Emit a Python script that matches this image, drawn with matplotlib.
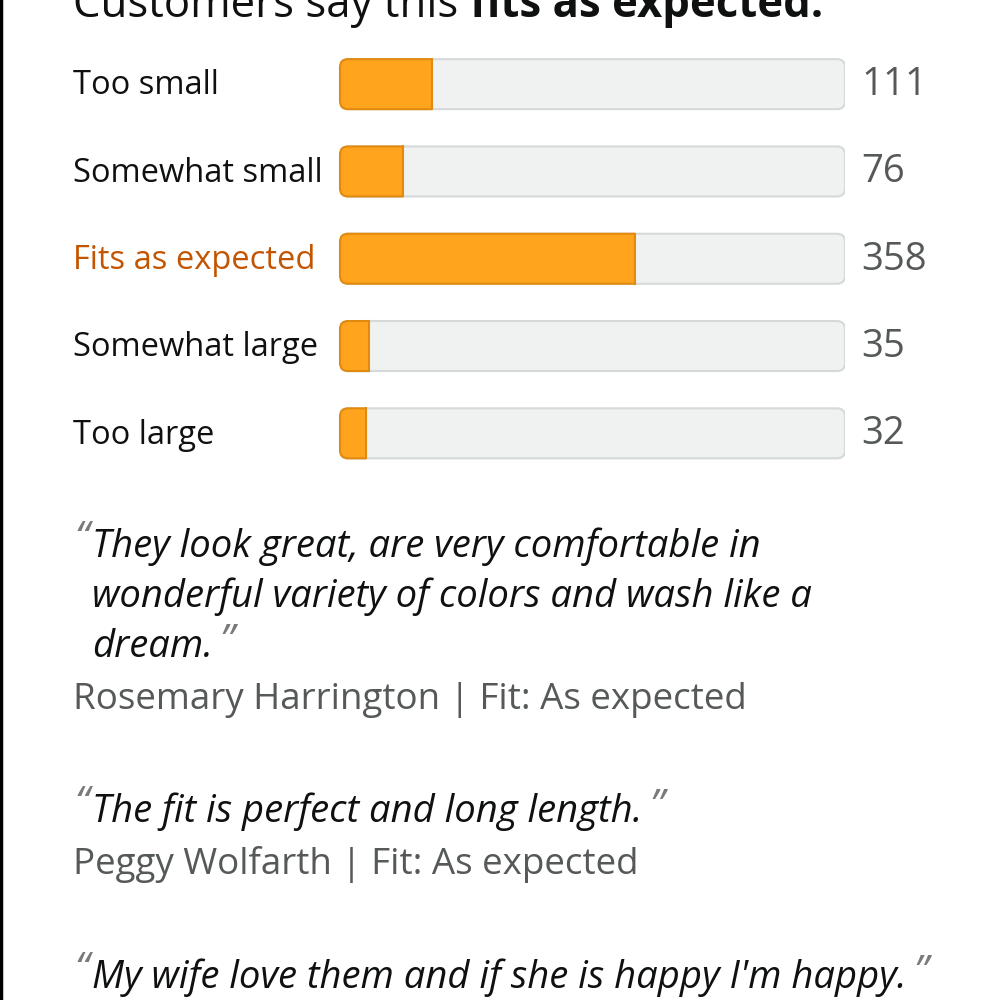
import matplotlib
matplotlib.use("Agg")
import matplotlib.pyplot as plt
from matplotlib.patches import FancyBboxPatch

plt.rcParams['font.family'] = ['Open Sans', 'DejaVu Sans']

# --- data ---
fit_labels = ['Too small', 'Somewhat small', 'Fits as expected', 'Somewhat large', 'Too large']
fit_counts = [111, 76, 358, 35, 32]
highlight = 'Fits as expected'

quote_lines = [
    ['They look great, are very comfortable in',
     'wonderful variety of colors and wash like a',
     'dream.'],
    ['The fit is perfect and long length.'],
    ["My wife love them and if she is happy I'm happy."],
]
quote_authors = ['Rosemary Harrington | Fit: As expected',
                 'Peggy Wolfarth | Fit: As expected',
                 None]

# --- colours ---
ORANGE = '#ffa41c'
ORANGE_EDGE = '#e08a10'
TRACK = '#f0f2f2'
TRACK_EDGE = '#d5d9d9'
TEXT = '#0f1111'
GREY = '#565959'
QUOTE_MARK = '#7a7a7a'
HILITE = '#c45500'

fig = plt.figure(figsize=(10, 10), dpi=100)

# page-level axes in pixel coordinates for text
ax = fig.add_axes([0, 0, 1, 1])
ax.set_xlim(0, 1000)
ax.set_ylim(1000, 0)
ax.axis('off')
ax.axvline(1, color='black', lw=2.5)

# title, cut off at the top
t1 = ax.text(73, 17, 'Customers say this ', fontsize=31.5, color=TEXT, va='baseline')
ax.annotate('fits as expected.', xy=(1, 0), xycoords=t1, fontsize=31.5,
            fontweight='bold', color=TEXT, va='bottom', ha='left')

# --- bar axes ---
bx = fig.add_axes([0.340, 1 - 0.477, 0.505, 0.4365])
bx.set_xlim(0, 1)
bx.set_ylim(len(fit_labels) - 0.5, -0.5)
bx.axis('off')

total = sum(fit_counts)
shares = [c / total for c in fit_counts]
bh = 0.573
aspect = 5.8
r = 0.016

tracks = bx.barh(range(len(fit_labels)), [1] * len(fit_labels), height=bh)
fills = bx.barh(range(len(fit_labels)), shares, height=bh)

for tr, fl in zip(tracks, fills):
    tr.set_visible(False)
    fl.set_visible(False)
    x, y, w, h = tr.get_x(), tr.get_y(), tr.get_width(), tr.get_height()
    bx.add_patch(FancyBboxPatch((x, y), w, h,
                                boxstyle=f'round,pad=0,rounding_size={r}',
                                mutation_aspect=aspect, facecolor=TRACK,
                                edgecolor=TRACK_EDGE, lw=1.5, zorder=1))
    x, y, w, h = fl.get_x(), fl.get_y(), fl.get_width(), fl.get_height()
    p = FancyBboxPatch((x, y), w + 2 * r, h,
                       boxstyle=f'round,pad=0,rounding_size={r}',
                       mutation_aspect=aspect, facecolor=ORANGE,
                       edgecolor=ORANGE_EDGE, lw=1.5, zorder=2)
    bx.add_patch(p)
    clip = plt.Rectangle((x - 0.01, y - 0.05), w + 0.01, h + 0.1,
                         transform=bx.transData)
    p.set_clip_path(clip)
    bx.plot([x + w, x + w], [y, y + h], color=ORANGE_EDGE, lw=1.5, zorder=3)

# labels and counts
for i, (lab, cnt) in enumerate(zip(fit_labels, fit_counts)):
    yc = 84 + i * 87.25
    ax.text(73, yc + 2, lab, fontsize=23.5, va='center', ha='left',
            color=HILITE if lab == highlight else TEXT)
    ax.text(861, yc + 1, str(cnt), fontsize=27.5, va='center', ha='left', color=GREY)

# quotes
quote_y = [557, 822, 988]
author_gap = 52
line_gap = 50
for lines, author, y0 in zip(quote_lines, quote_authors, quote_y):
    ax.text(74, y0 - 6, '\u201c', fontsize=30, style='italic', color=QUOTE_MARK,
            va='baseline', ha='left')
    last = None
    for j, ln in enumerate(lines):
        last = ax.text(92, y0 + j * line_gap, ln, fontsize=27.5, style='italic',
                       color=TEXT, va='baseline', ha='left')
    ax.annotate('\u201d', xy=(1, 1), xycoords=last, xytext=(5, 4),
                textcoords='offset points', fontsize=30, style='italic',
                color=QUOTE_MARK, va='top', ha='left')
    if author:
        ax.text(73, y0 + (len(lines) - 1) * line_gap + author_gap, author,
                fontsize=26.5, color=GREY, va='baseline', ha='left')

fig.savefig('out.png', dpi=100)
